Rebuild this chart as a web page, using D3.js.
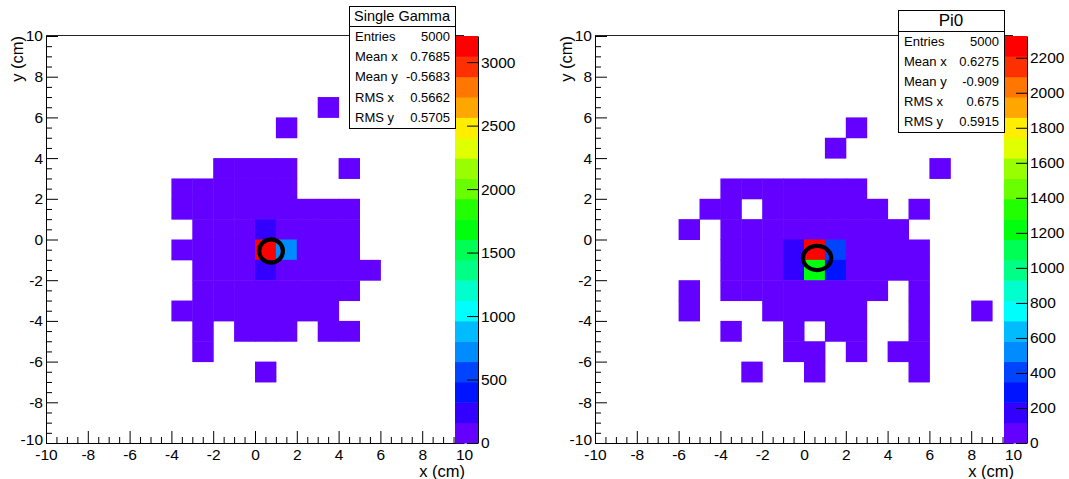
<!DOCTYPE html>
<html>
<head>
<meta charset="utf-8">
<script src="https://cdn.jsdelivr.net/npm/d3@7"></script>
<style>
  html, body { margin: 0; padding: 0; background: #fff; }
  svg { display: block; }
  text { font-family: "Liberation Sans", Arial, Helvetica, sans-serif; fill: #000; }
</style>
</head>
<body>
<svg id="chart" width="1069" height="479"></svg>
<script>
// bins are [x low edge (cm), y low edge (cm), entries]
const gammaBins = [
  [3, 6, 1], [1, 5, 1],
  [-2, 3, 2], [-1, 3, 3], [0, 3, 4], [1, 3, 2], [4, 3, 1],
  [-4, 2, 1], [-3, 2, 2], [-2, 2, 4], [-1, 2, 6], [0, 2, 8], [1, 2, 5],
  [-4, 1, 2], [-3, 1, 4], [-2, 1, 7], [-1, 1, 12], [0, 1, 21], [1, 1, 15], [2, 1, 8], [3, 1, 4], [4, 1, 2],
  [-3, 0, 5], [-2, 0, 9], [-1, 0, 30], [0, 0, 250], [1, 0, 60], [2, 0, 14], [3, 0, 6], [4, 0, 3],
  [-4, -1, 2], [-3, -1, 7], [-2, -1, 12], [-1, -1, 80], [0, -1, 3206], [1, -1, 720], [2, -1, 25], [3, -1, 8], [4, -1, 3],
  [-3, -2, 5], [-2, -2, 9], [-1, -2, 28], [0, -2, 245], [1, -2, 55], [2, -2, 13], [3, -2, 6], [4, -2, 3], [5, -2, 1],
  [-3, -3, 3], [-2, -3, 6], [-1, -3, 10], [0, -3, 18], [1, -3, 11], [2, -3, 6], [3, -3, 3], [4, -3, 2],
  [-4, -4, 1], [-3, -4, 3], [-2, -4, 4], [-1, -4, 6], [0, -4, 8], [1, -4, 5], [2, -4, 3], [3, -4, 2],
  [-3, -5, 1], [-1, -5, 2], [0, -5, 3], [1, -5, 2], [3, -5, 1], [4, -5, 1],
  [-3, -6, 1],
  [0, -7, 1]
];

const pi0Bins = [
  [2, 5, 1], [1, 4, 1], [6, 3, 1],
  [-4, 2, 1], [-3, 2, 2], [-2, 2, 3], [-1, 2, 4], [0, 2, 5], [1, 2, 3], [2, 2, 2],
  [-5, 1, 1], [-4, 1, 2], [-2, 1, 5], [-1, 1, 8], [0, 1, 14], [1, 1, 10], [2, 1, 6], [3, 1, 3], [5, 1, 1],
  [-6, 0, 1], [-4, 0, 3], [-3, 0, 5], [-2, 0, 9], [-1, 0, 25], [0, 0, 70], [1, 0, 40], [2, 0, 12], [3, 0, 5], [4, 0, 2],
  [-4, -1, 3], [-3, -1, 6], [-2, -1, 14], [-1, -1, 180], [0, -1, 2324], [1, -1, 400], [2, -1, 20], [3, -1, 7], [4, -1, 3], [5, -1, 1],
  [-4, -2, 3], [-3, -2, 6], [-2, -2, 13], [-1, -2, 175], [0, -2, 1220], [1, -2, 290], [2, -2, 18], [3, -2, 6], [4, -2, 2], [5, -2, 1],
  [-6, -3, 1], [-4, -3, 2], [-3, -3, 4], [-2, -3, 7], [-1, -3, 12], [0, -3, 20], [1, -3, 10], [2, -3, 6], [3, -3, 3], [5, -3, 1],
  [-6, -4, 1], [-2, -4, 3], [-1, -4, 5], [0, -4, 7], [1, -4, 4], [2, -4, 2], [5, -4, 1], [8, -4, 1],
  [-4, -5, 1], [-1, -5, 2], [1, -5, 2], [2, -5, 1], [5, -5, 1],
  [-1, -6, 1], [0, -6, 2], [2, -6, 1], [4, -6, 1], [5, -6, 1],
  [-3, -7, 1], [0, -7, 1], [5, -7, 1]
];

const axisTicks = [-10, -8, -6, -4, -2, 0, 2, 4, 6, 8, 10];
const gammaZTicks = [0, 500, 1000, 1500, 2000, 2500, 3000];
const pi0ZTicks = [0, 200, 400, 600, 800, 1000, 1200, 1400, 1600, 1800, 2000, 2200];
const gammaZMax = 3206;
const pi0ZMax = 2324;

const statNames = ["Entries", "Mean x", "Mean y", "RMS x", "RMS y"];
const gammaStats = ["5000", "0.7685", "-0.5683", "0.5662", "0.5705"];
const pi0Stats = ["5000", "0.6275", "-0.909", "0.675", "0.5915"];

const nContours = 20;

// ROOT "pretty" palette, 50 colours, picked for 20 contours
function contourColor(k) {
  const idx = Math.floor((k + 0.99) * 50 / nContours);
  const hue = 280 - (idx + 1) * 5.6;
  return d3.hsl(hue, 1, 0.5).formatHex();
}

function binColor(v, zmax) {
  const k = Math.min(nContours - 1, Math.floor(0.01 + v * nContours / zmax));
  return contourColor(k);
}

// plain hyphen, as ROOT prints it
const fmt = d => String(d);

const svg = d3.select("#chart");

function drawPanel(cfg) {
  const g = svg.append("g");
  const x = d3.scaleLinear().domain([-10, 10]).range([cfg.x0, cfg.x1]);
  const y = d3.scaleLinear().domain([-10, 10]).range([cfg.y1, cfg.y0]);

  // bins
  g.selectAll("rect.bin")
    .data(cfg.bins.filter(d => d[2] > 0))
    .enter().append("rect")
    .attr("x", d => x(d[0]))
    .attr("y", d => y(d[1] + 1))
    .attr("width", d => x(d[0] + 1) - x(d[0]) + 0.5)
    .attr("height", d => y(d[1]) - y(d[1] + 1) + 0.5)
    .attr("fill", d => binColor(d[2], cfg.zmax));

  // top frame line
  g.append("line")
    .attr("x1", cfg.x0).attr("x2", cfg.x1)
    .attr("y1", cfg.y0 - 0.5).attr("y2", cfg.y0 - 0.5)
    .attr("stroke", "#222").attr("stroke-width", 1);

  // x axis
  const minorTicks = d3.range(-10, 10.01, 0.5).filter(t => Math.abs(t % 2) > 0.01);
  g.append("g")
    .attr("transform", `translate(0,${cfg.y1})`)
    .call(d3.axisBottom(x).tickValues(minorTicks).tickSize(-6).tickSizeOuter(0).tickFormat(""))
    .call(a => a.select(".domain").remove());
  const xa = g.append("g")
    .attr("transform", `translate(0,${cfg.y1})`)
    .call(d3.axisBottom(x).tickValues(axisTicks).tickSize(-12).tickSizeOuter(0).tickPadding(6).tickFormat(fmt));
  xa.selectAll("text").style("font-size", "15.5px").style("font-family", "Liberation Sans, Arial, sans-serif");

  // y axis
  g.append("g")
    .attr("transform", `translate(${cfg.x0},0)`)
    .call(d3.axisLeft(y).tickValues(minorTicks).tickSize(-6).tickSizeOuter(0).tickFormat(""))
    .call(a => a.select(".domain").remove());
  const ya = g.append("g")
    .attr("transform", `translate(${cfg.x0},0)`)
    .call(d3.axisLeft(y).tickValues(axisTicks).tickSize(-12).tickSizeOuter(0).tickPadding(3).tickFormat(fmt));
  ya.selectAll("text").style("font-size", "15.5px").style("font-family", "Liberation Sans, Arial, sans-serif");
  ya.selectAll(".tick text").filter(d => d === -10).attr("dy", "0.1em");

  g.selectAll(".domain, .tick line").attr("stroke", "#000");

  // axis titles
  g.append("text")
    .attr("x", cfg.x1 + 1).attr("y", 477)
    .attr("text-anchor", "end")
    .style("font-size", "16.5px")
    .text("x (cm)");
  g.append("text")
    .attr("transform", `translate(${cfg.x0 - 23},${cfg.y0}) rotate(-90)`)
    .attr("text-anchor", "end")
    .style("font-size", "16.5px")
    .text("y (cm)");

  // mean / rms ellipse
  const mx = +cfg.stats[1], my = +cfg.stats[2], rx = +cfg.stats[3], ry = +cfg.stats[4];
  g.append("ellipse")
    .attr("cx", x(mx)).attr("cy", y(my))
    .attr("rx", x(mx + rx) - x(mx)).attr("ry", y(my) - y(my + ry))
    .attr("fill", "none").attr("stroke", "#000").attr("stroke-width", 4.2);

  // palette
  const z = d3.scaleLinear().domain([0, cfg.zmax]).range([cfg.y1, cfg.y0]);
  const bands = d3.range(nContours);
  g.selectAll("rect.band")
    .data(bands)
    .enter().append("rect")
    .attr("x", cfg.px0)
    .attr("width", cfg.px1 - cfg.px0)
    .attr("y", k => z((k + 1) * cfg.zmax / nContours))
    .attr("height", k => z(k * cfg.zmax / nContours) - z((k + 1) * cfg.zmax / nContours) + 0.5)
    .attr("fill", k => contourColor(k));
  const za = g.append("g")
    .attr("transform", `translate(${cfg.px1},0)`)
    .call(d3.axisRight(z).tickValues(cfg.zticks).tickSize(-11).tickSizeOuter(0).tickPadding(3).tickFormat(fmt));
  za.selectAll("text").style("font-size", "15.5px").style("font-family", "Liberation Sans, Arial, sans-serif");
  za.selectAll(".domain, .tick line").attr("stroke", "#000");

  // stats box
  const s = cfg.box;
  const sb = g.append("g");
  sb.append("rect")
    .attr("x", s.x + 0.5).attr("y", s.y + 0.5)
    .attr("width", s.w).attr("height", s.h)
    .attr("fill", "#fff").attr("stroke", "#000").attr("stroke-width", 1);
  sb.append("line")
    .attr("x1", s.x + 0.5).attr("x2", s.x + s.w + 0.5)
    .attr("y1", s.y + s.th + 0.5).attr("y2", s.y + s.th + 0.5)
    .attr("stroke", "#000");
  sb.append("text")
    .attr("x", s.x + s.w / 2).attr("y", s.y + s.th / 2 + 1)
    .attr("text-anchor", "middle").attr("dominant-baseline", "middle")
    .style("font-size", s.titleSize + "px")
    .text(cfg.title);
  const rowH = (s.h - s.th) / statNames.length;
  statNames.forEach((name, i) => {
    const cy = s.y + s.th + rowH * (i + 0.5) + 1;
    sb.append("text")
      .attr("x", s.x + 6).attr("y", cy)
      .attr("dominant-baseline", "middle")
      .style("font-size", "13px")
      .text(name);
    sb.append("text")
      .attr("x", s.x + s.w - 5).attr("y", cy)
      .attr("text-anchor", "end").attr("dominant-baseline", "middle")
      .style("font-size", "13px")
      .text(cfg.stats[i]);
  });
}

drawPanel({
  bins: gammaBins, zmax: gammaZMax, zticks: gammaZTicks, stats: gammaStats, title: "Single Gamma",
  x0: 46, x1: 464, y0: 36, y1: 443, px0: 455, px1: 478,
  box: { x: 349, y: 6, w: 106, h: 122, th: 20, titleSize: 14.5 }
});

drawPanel({
  bins: pi0Bins, zmax: pi0ZMax, zticks: pi0ZTicks, stats: pi0Stats, title: "Pi0",
  x0: 595, x1: 1013, y0: 36, y1: 443, px0: 1004, px1: 1027,
  box: { x: 898, y: 10, w: 106, h: 122, th: 21, titleSize: 17 }
});
</script>
</body>
</html>
